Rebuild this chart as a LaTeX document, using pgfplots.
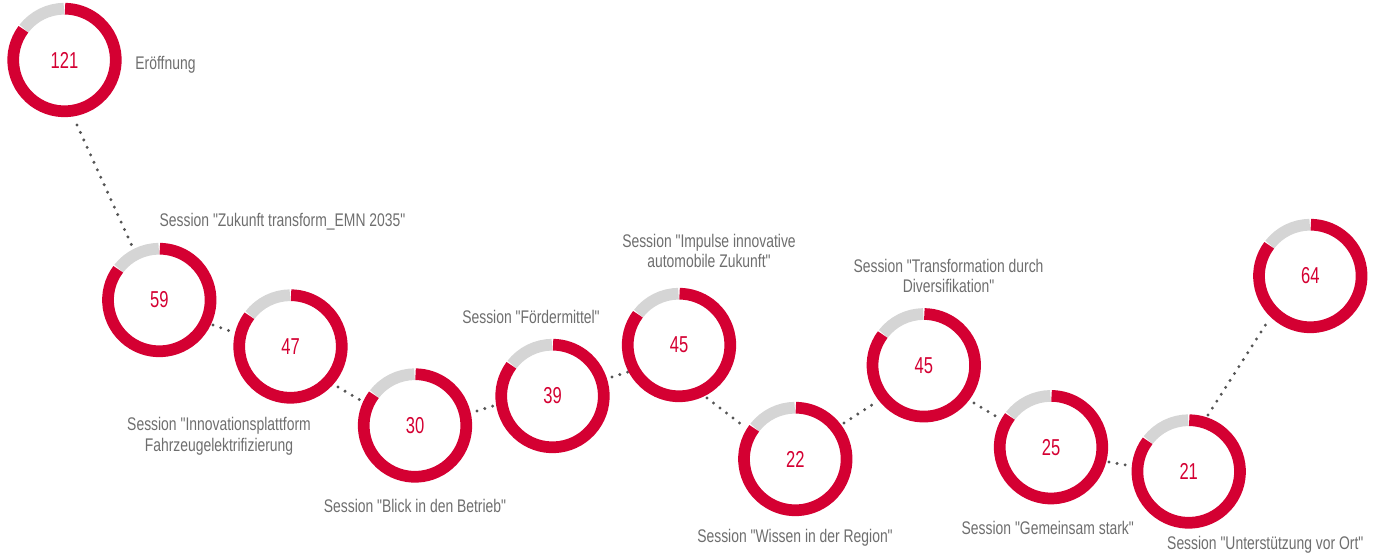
\documentclass[border=0pt]{standalone}
\usepackage{fontspec}
\setmainfont{Liberation Sans}[FakeStretch=0.76, Ligatures=TeXOff]
\newfontfamily\numfont{Liberation Sans}[FakeStretch=0.72, Ligatures=TeXOff]
\usepackage{pgfplots}
\pgfplotsset{compat=1.18}
\definecolor{ringred}{HTML}{D40032}
\definecolor{ringgray}{HTML}{D5D5D5}
\definecolor{labelgray}{HTML}{6E6E6E}
\definecolor{dotgray}{HTML}{555555}

\pgfdeclareplotmark{donut}{%
  \pgfsetlinewidth{11.7bp}%
  \pgfsetbuttcap
  \pgfsetstrokecolor{ringgray}%
  \pgfpathmoveto{\pgfpointpolar{90.6}{51.3bp}}%
  \pgfpatharc{90.6}{142.2}{51.3bp}%
  \pgfusepath{stroke}%
  \pgfsetstrokecolor{ringred}%
  \pgfpathmoveto{\pgfpointpolar{143.2}{51.3bp}}%
  \pgfpatharc{143.2}{449.4}{51.3bp}%
  \pgfusepath{stroke}%
}

\pgfplotsset{
  lbl/.style={draw=none, mark=none, nodes near coords={#1},
    every node near coord/.append style={anchor=center, align=center,
      text=labelgray, inner sep=0pt, font=\fontsize{18.3bp}{20.8bp}\selectfont}},
  seg/.style={draw=dotgray, mark=none, line width=3.3bp, line cap=round,
    dash pattern=on 0bp off 8.2bp},
}

\begin{document}
\begin{tikzpicture}
\useasboundingbox (0,0) rectangle (1375bp,555bp);
\begin{axis}[
  at={(0,0)}, anchor=south west,
  scale only axis, width=1375bp, height=555bp,
  xmin=0, xmax=1375, ymin=0, ymax=555, y dir=reverse,
  hide axis, clip=false,
]
% donuts with values
\addplot[only marks, mark=donut, point meta=explicit symbolic,
  nodes near coords,
  every node near coord/.append style={anchor=center, inner sep=0pt,
    text=ringred, font=\numfont\fontsize{23bp}{23bp}\selectfont}]
coordinates {
  (64.5,60) [121]
  (159.3,300) [59]
  (290.5,346.5) [47]
  (415,425.5) [30]
  (552.5,396) [39]
  (679,345) [45]
  (795.3,459) [22]
  (923.8,365.3) [45]
  (1051,447.2) [25]
  (1188.7,471.5) [21]
  (1310.3,276) [64]
};

% dotted connectors (visible parts)
\addplot[seg] coordinates {(77,125) (137,257)};
\addplot[seg] coordinates {(213,325) (233,332)};
\addplot[seg] coordinates {(338,387) (360,400)};
\addplot[seg] coordinates {(477,411) (493,406)};
\addplot[seg] coordinates {(612,377) (628,372)};
\addplot[seg] coordinates {(707,398) (742,425)};
\addplot[seg] coordinates {(844,423) (878,401)};
\addplot[seg] coordinates {(974,403) (997,417)};
\addplot[seg] coordinates {(1109,462) (1131,466)};
\addplot[seg] coordinates {(1208,415) (1268,321)};

% labels
\addplot[lbl={Eröffnung}] coordinates {(165.5,64.5)};
\addplot[lbl={Session "Zukunft transform\_EMN 2035"}] coordinates {(282.5,221.5)};
\addplot[lbl={Session "Innovationsplattform\\Fahrzeugelektrifizierung}] coordinates {(219,436)};
\addplot[lbl={Session "Blick in den Betrieb"}] coordinates {(415,505.5)};
\addplot[lbl={Session "Fördermittel"}] coordinates {(531,316.5)};
\addplot[lbl={Session "Impulse innovative\\automobile Zukunft"}] coordinates {(709,251)};
\addplot[lbl={Session "Wissen in der Region"}] coordinates {(795,537.5)};
\addplot[lbl={Session "Transformation durch\\Diversifikation"}] coordinates {(948.5,276)};
\addplot[lbl={Session "Gemeinsam stark"}] coordinates {(1047.8,527.5)};
\addplot[lbl={Session "Unterstützung vor Ort"}] coordinates {(1265.3,544.5)};
\end{axis}
\end{tikzpicture}
\end{document}
